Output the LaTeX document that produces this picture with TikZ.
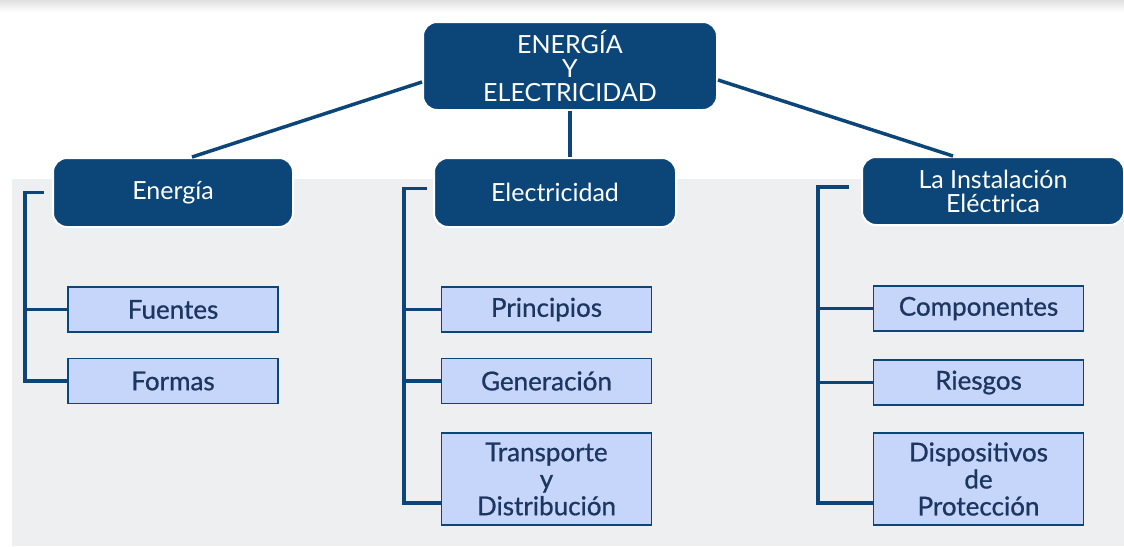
\documentclass[tikz,border=0pt]{standalone}
\usepackage{fontspec}
\setmainfont{Lato}
\newfontface\leaffont{Lato}[FakeBold=0.8]
\usepackage{tikz}
\usetikzlibrary{positioning,calc}

\definecolor{navy}{RGB}{12,70,121}
\definecolor{lila}{RGB}{198,213,250}
\definecolor{inkblue}{RGB}{28,54,96}
\definecolor{panel}{RGB}{238,239,241}

\begin{document}
\begin{tikzpicture}[x=1pt,y=-1pt,
    head/.style={fill=navy,draw=white,line width=2pt,rounded corners=14pt,
        text=white,font=\fontsize{25}{24}\selectfont,align=center,inner sep=0pt},
    leaf/.style={fill=lila,draw=navy,line width=1.4pt,text=inkblue,
        font=\leaffont\fontsize{26}{27}\selectfont,align=center,inner sep=0pt,
        minimum width=210pt},
    link/.style={draw=navy,line width=3.5pt}]
% Background
\useasboundingbox (0,0) rectangle (1124,546);
\shade[top color=black!12,bottom color=white] (0,0) rectangle (1124,12);
\fill[panel] (12,179) rectangle (1124,546);

% Main node
\node[head,minimum width=294pt,minimum height=88pt] (top) at (570,66)
    {ENERGÍA\\Y\\ELECTRICIDAD};

% Second level
\node[head,minimum width=240pt,minimum height=69pt] (ener) at (173,192.5) {Energía};
\node[head,minimum width=242pt,minimum height=69pt] (elec) at (555,192.5) {Electricidad};
\node[head,minimum width=262pt,minimum height=68pt] (inst) at (993,191)
    {La Instalación\\Eléctrica};

% Leaves
\node[leaf,minimum height=45pt] (fue) at (173,309.5) {Fuentes};
\node[leaf,minimum height=45pt] (for) at (173,381) {Formas};
\node[leaf,minimum height=45pt] (pri) at (546.5,309.5) {Principios};
\node[leaf,minimum height=45pt] (gen) at (546.5,381) {Generación};
\node[leaf,minimum height=92pt] (tra) at (546.5,479) {Transporte\\y\\Distribución};
\node[leaf,minimum height=45pt] (com) at (978.5,308.5) {Componentes};
\node[leaf,minimum height=45pt] (rie) at (978.5,382.5) {Riesgos};
\node[leaf,minimum height=92pt] (dis) at (978.5,479) {Dispositivos\\de\\Protección};

% Links from the main node
\draw[link] ([yshift=-16pt]top.west) -- ([xshift=19pt]ener.north);
\draw[link] ([yshift=-14pt]top.east) -- ([xshift=-40pt]inst.north);
\draw[link] (top.south) -- (top.south |- elec.north);

% Branches
\draw[link] ([xshift=-8pt]ener.west) -- ++(-19,0) |- (for.west);
\draw[link] (fue.west) -- ++(-42,0);
\draw[link] ([xshift=-6pt,yshift=4pt]elec.west) -- ++(-23,0) |- ([yshift=-24pt]tra.west);
\foreach \n in {pri,gen}
    \draw[link] (\n.west) -- ++(-36,0);
\draw[link] ([xshift=-12pt,yshift=4pt]inst.west) -- ++(-31,0) |- ([yshift=-24pt]dis.west);
\foreach \n in {com,rie}
    \draw[link] (\n.west) -- ++(-54,0);
\end{tikzpicture}
\end{document}
